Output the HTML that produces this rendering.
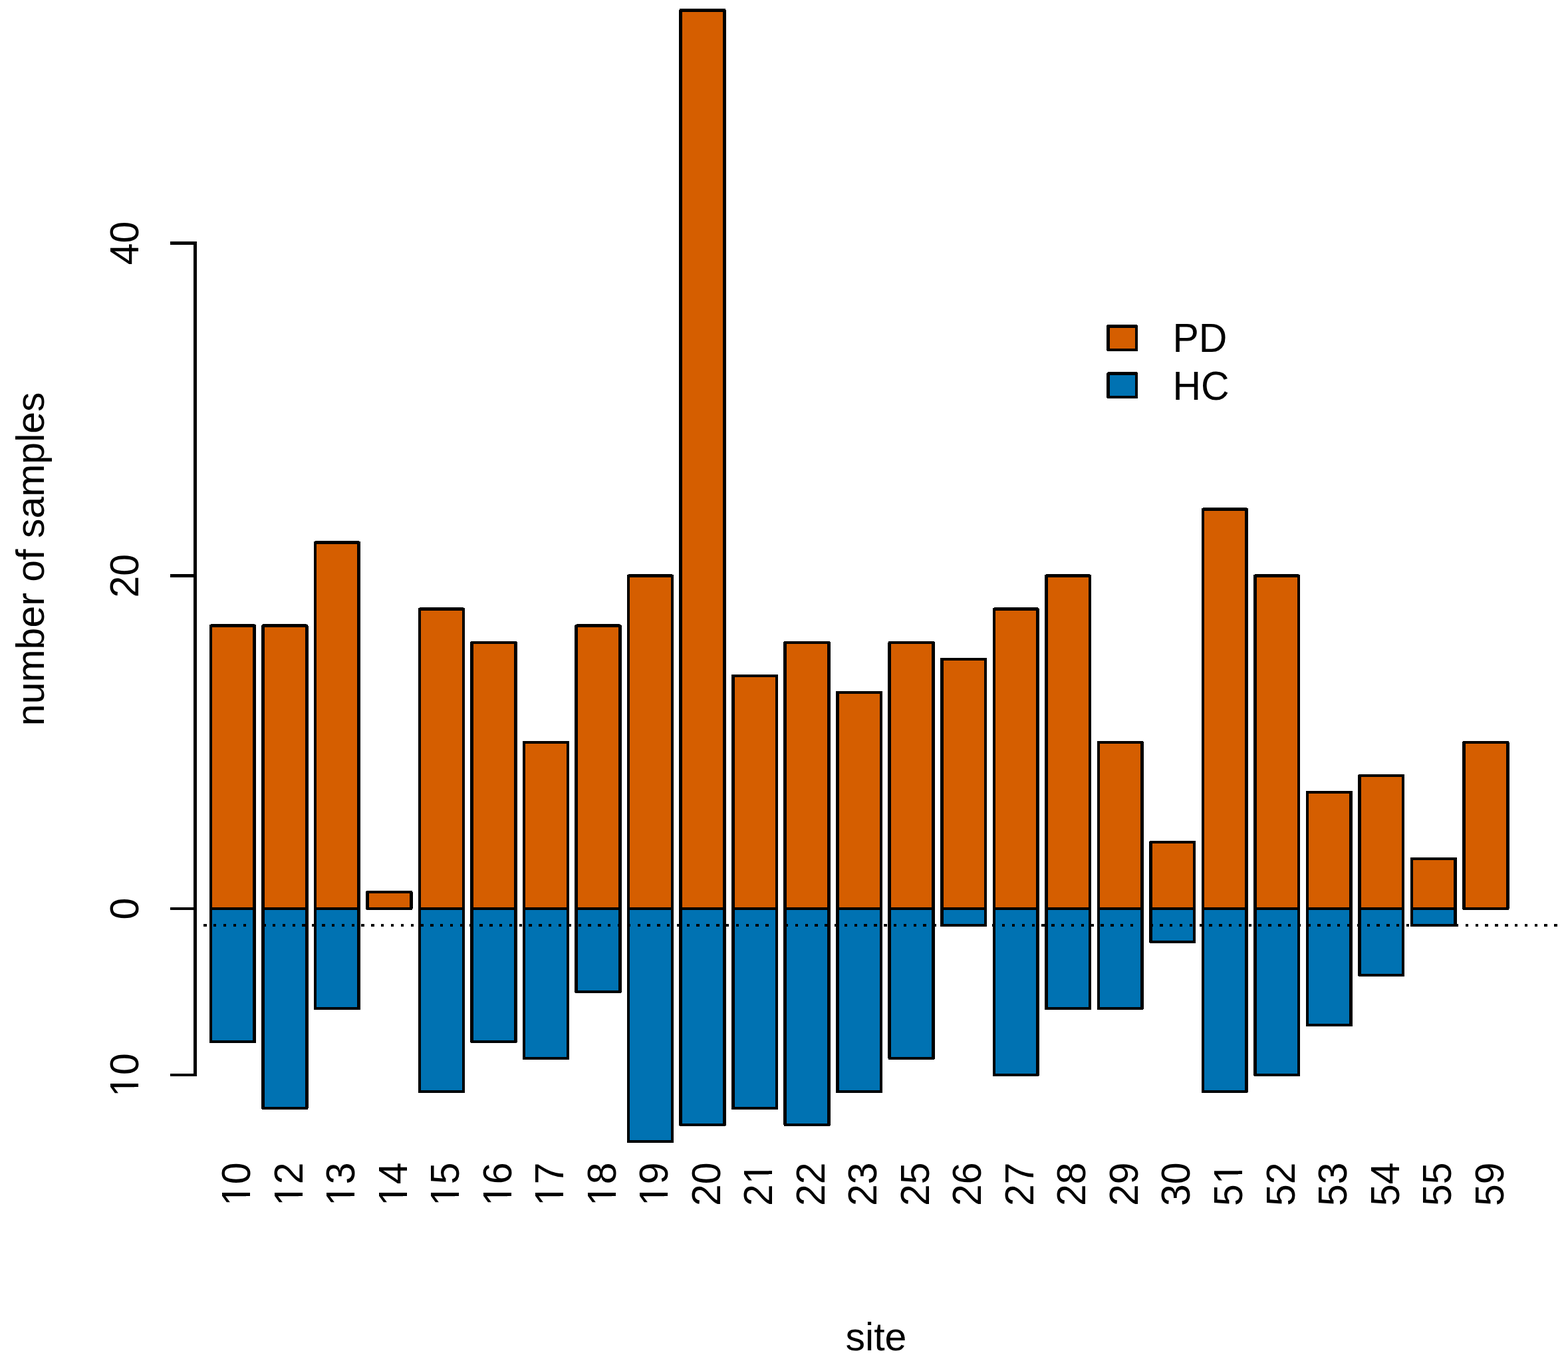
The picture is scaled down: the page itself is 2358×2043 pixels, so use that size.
<!DOCTYPE html>
<html><head><meta charset="utf-8"><title>number of samples by site</title>
<style>
html,body{margin:0;padding:0;background:#fff;overflow:hidden;}
svg{display:block;}
rect,path,line{shape-rendering:crispEdges;}
text{font-family:"Liberation Sans",Arial,Helvetica,sans-serif;font-size:59px;fill:#000;}
</style></head>
<body>
<svg width="2358" height="2043" viewBox="0 0 2358 2043">
<rect width="2358" height="2043" fill="#fff"/>
<rect x="317.00" y="940.79" width="65.75" height="425.21" fill="#D55E00"/>
<rect x="317.00" y="1366.00" width="65.75" height="200.10" fill="#0072B2"/>
<rect x="395.52" y="940.79" width="65.75" height="425.21" fill="#D55E00"/>
<rect x="395.52" y="1366.00" width="65.75" height="300.15" fill="#0072B2"/>
<rect x="474.04" y="815.73" width="65.75" height="550.27" fill="#D55E00"/>
<rect x="474.04" y="1366.00" width="65.75" height="150.07" fill="#0072B2"/>
<rect x="552.56" y="1340.99" width="65.75" height="25.01" fill="#D55E00"/>
<rect x="631.08" y="915.78" width="65.75" height="450.22" fill="#D55E00"/>
<rect x="631.08" y="1366.00" width="65.75" height="275.14" fill="#0072B2"/>
<rect x="709.60" y="965.80" width="65.75" height="400.20" fill="#D55E00"/>
<rect x="709.60" y="1366.00" width="65.75" height="200.10" fill="#0072B2"/>
<rect x="788.12" y="1115.88" width="65.75" height="250.12" fill="#D55E00"/>
<rect x="788.12" y="1366.00" width="65.75" height="225.11" fill="#0072B2"/>
<rect x="866.64" y="940.79" width="65.75" height="425.21" fill="#D55E00"/>
<rect x="866.64" y="1366.00" width="65.75" height="125.06" fill="#0072B2"/>
<rect x="945.16" y="865.75" width="65.75" height="500.25" fill="#D55E00"/>
<rect x="945.16" y="1366.00" width="65.75" height="350.18" fill="#0072B2"/>
<rect x="1023.68" y="15.33" width="65.75" height="1350.67" fill="#D55E00"/>
<rect x="1023.68" y="1366.00" width="65.75" height="325.16" fill="#0072B2"/>
<rect x="1102.20" y="1015.83" width="65.75" height="350.18" fill="#D55E00"/>
<rect x="1102.20" y="1366.00" width="65.75" height="300.15" fill="#0072B2"/>
<rect x="1180.72" y="965.80" width="65.75" height="400.20" fill="#D55E00"/>
<rect x="1180.72" y="1366.00" width="65.75" height="325.16" fill="#0072B2"/>
<rect x="1259.24" y="1040.84" width="65.75" height="325.16" fill="#D55E00"/>
<rect x="1259.24" y="1366.00" width="65.75" height="275.14" fill="#0072B2"/>
<rect x="1337.76" y="965.80" width="65.75" height="400.20" fill="#D55E00"/>
<rect x="1337.76" y="1366.00" width="65.75" height="225.11" fill="#0072B2"/>
<rect x="1416.28" y="990.81" width="65.75" height="375.19" fill="#D55E00"/>
<rect x="1416.28" y="1366.00" width="65.75" height="25.01" fill="#0072B2"/>
<rect x="1494.80" y="915.78" width="65.75" height="450.22" fill="#D55E00"/>
<rect x="1494.80" y="1366.00" width="65.75" height="250.12" fill="#0072B2"/>
<rect x="1573.32" y="865.75" width="65.75" height="500.25" fill="#D55E00"/>
<rect x="1573.32" y="1366.00" width="65.75" height="150.07" fill="#0072B2"/>
<rect x="1651.84" y="1115.88" width="65.75" height="250.12" fill="#D55E00"/>
<rect x="1651.84" y="1366.00" width="65.75" height="150.07" fill="#0072B2"/>
<rect x="1730.36" y="1265.95" width="65.75" height="100.05" fill="#D55E00"/>
<rect x="1730.36" y="1366.00" width="65.75" height="50.02" fill="#0072B2"/>
<rect x="1808.88" y="765.70" width="65.75" height="600.30" fill="#D55E00"/>
<rect x="1808.88" y="1366.00" width="65.75" height="275.14" fill="#0072B2"/>
<rect x="1887.40" y="865.75" width="65.75" height="500.25" fill="#D55E00"/>
<rect x="1887.40" y="1366.00" width="65.75" height="250.12" fill="#0072B2"/>
<rect x="1965.92" y="1190.91" width="65.75" height="175.09" fill="#D55E00"/>
<rect x="1965.92" y="1366.00" width="65.75" height="175.09" fill="#0072B2"/>
<rect x="2044.44" y="1165.90" width="65.75" height="200.10" fill="#D55E00"/>
<rect x="2044.44" y="1366.00" width="65.75" height="100.05" fill="#0072B2"/>
<rect x="2122.96" y="1290.96" width="65.75" height="75.04" fill="#D55E00"/>
<rect x="2122.96" y="1366.00" width="65.75" height="25.01" fill="#0072B2"/>
<rect x="2201.48" y="1115.88" width="65.75" height="250.12" fill="#D55E00"/>
<rect x="317.00" y="940.79" width="65.75" height="425.21" fill="none" stroke="#000" stroke-width="4.6" stroke-linejoin="round"/>
<rect x="317.00" y="1366.00" width="65.75" height="200.10" fill="none" stroke="#000" stroke-width="4.6" stroke-linejoin="round"/>
<rect x="395.52" y="940.79" width="65.75" height="425.21" fill="none" stroke="#000" stroke-width="4.6" stroke-linejoin="round"/>
<rect x="395.52" y="1366.00" width="65.75" height="300.15" fill="none" stroke="#000" stroke-width="4.6" stroke-linejoin="round"/>
<rect x="474.04" y="815.73" width="65.75" height="550.27" fill="none" stroke="#000" stroke-width="4.6" stroke-linejoin="round"/>
<rect x="474.04" y="1366.00" width="65.75" height="150.07" fill="none" stroke="#000" stroke-width="4.6" stroke-linejoin="round"/>
<rect x="552.56" y="1340.99" width="65.75" height="25.01" fill="none" stroke="#000" stroke-width="4.6" stroke-linejoin="round"/>
<rect x="631.08" y="915.78" width="65.75" height="450.22" fill="none" stroke="#000" stroke-width="4.6" stroke-linejoin="round"/>
<rect x="631.08" y="1366.00" width="65.75" height="275.14" fill="none" stroke="#000" stroke-width="4.6" stroke-linejoin="round"/>
<rect x="709.60" y="965.80" width="65.75" height="400.20" fill="none" stroke="#000" stroke-width="4.6" stroke-linejoin="round"/>
<rect x="709.60" y="1366.00" width="65.75" height="200.10" fill="none" stroke="#000" stroke-width="4.6" stroke-linejoin="round"/>
<rect x="788.12" y="1115.88" width="65.75" height="250.12" fill="none" stroke="#000" stroke-width="4.6" stroke-linejoin="round"/>
<rect x="788.12" y="1366.00" width="65.75" height="225.11" fill="none" stroke="#000" stroke-width="4.6" stroke-linejoin="round"/>
<rect x="866.64" y="940.79" width="65.75" height="425.21" fill="none" stroke="#000" stroke-width="4.6" stroke-linejoin="round"/>
<rect x="866.64" y="1366.00" width="65.75" height="125.06" fill="none" stroke="#000" stroke-width="4.6" stroke-linejoin="round"/>
<rect x="945.16" y="865.75" width="65.75" height="500.25" fill="none" stroke="#000" stroke-width="4.6" stroke-linejoin="round"/>
<rect x="945.16" y="1366.00" width="65.75" height="350.18" fill="none" stroke="#000" stroke-width="4.6" stroke-linejoin="round"/>
<rect x="1023.68" y="15.33" width="65.75" height="1350.67" fill="none" stroke="#000" stroke-width="4.6" stroke-linejoin="round"/>
<rect x="1023.68" y="1366.00" width="65.75" height="325.16" fill="none" stroke="#000" stroke-width="4.6" stroke-linejoin="round"/>
<rect x="1102.20" y="1015.83" width="65.75" height="350.18" fill="none" stroke="#000" stroke-width="4.6" stroke-linejoin="round"/>
<rect x="1102.20" y="1366.00" width="65.75" height="300.15" fill="none" stroke="#000" stroke-width="4.6" stroke-linejoin="round"/>
<rect x="1180.72" y="965.80" width="65.75" height="400.20" fill="none" stroke="#000" stroke-width="4.6" stroke-linejoin="round"/>
<rect x="1180.72" y="1366.00" width="65.75" height="325.16" fill="none" stroke="#000" stroke-width="4.6" stroke-linejoin="round"/>
<rect x="1259.24" y="1040.84" width="65.75" height="325.16" fill="none" stroke="#000" stroke-width="4.6" stroke-linejoin="round"/>
<rect x="1259.24" y="1366.00" width="65.75" height="275.14" fill="none" stroke="#000" stroke-width="4.6" stroke-linejoin="round"/>
<rect x="1337.76" y="965.80" width="65.75" height="400.20" fill="none" stroke="#000" stroke-width="4.6" stroke-linejoin="round"/>
<rect x="1337.76" y="1366.00" width="65.75" height="225.11" fill="none" stroke="#000" stroke-width="4.6" stroke-linejoin="round"/>
<rect x="1416.28" y="990.81" width="65.75" height="375.19" fill="none" stroke="#000" stroke-width="4.6" stroke-linejoin="round"/>
<rect x="1416.28" y="1366.00" width="65.75" height="25.01" fill="none" stroke="#000" stroke-width="4.6" stroke-linejoin="round"/>
<rect x="1494.80" y="915.78" width="65.75" height="450.22" fill="none" stroke="#000" stroke-width="4.6" stroke-linejoin="round"/>
<rect x="1494.80" y="1366.00" width="65.75" height="250.12" fill="none" stroke="#000" stroke-width="4.6" stroke-linejoin="round"/>
<rect x="1573.32" y="865.75" width="65.75" height="500.25" fill="none" stroke="#000" stroke-width="4.6" stroke-linejoin="round"/>
<rect x="1573.32" y="1366.00" width="65.75" height="150.07" fill="none" stroke="#000" stroke-width="4.6" stroke-linejoin="round"/>
<rect x="1651.84" y="1115.88" width="65.75" height="250.12" fill="none" stroke="#000" stroke-width="4.6" stroke-linejoin="round"/>
<rect x="1651.84" y="1366.00" width="65.75" height="150.07" fill="none" stroke="#000" stroke-width="4.6" stroke-linejoin="round"/>
<rect x="1730.36" y="1265.95" width="65.75" height="100.05" fill="none" stroke="#000" stroke-width="4.6" stroke-linejoin="round"/>
<rect x="1730.36" y="1366.00" width="65.75" height="50.02" fill="none" stroke="#000" stroke-width="4.6" stroke-linejoin="round"/>
<rect x="1808.88" y="765.70" width="65.75" height="600.30" fill="none" stroke="#000" stroke-width="4.6" stroke-linejoin="round"/>
<rect x="1808.88" y="1366.00" width="65.75" height="275.14" fill="none" stroke="#000" stroke-width="4.6" stroke-linejoin="round"/>
<rect x="1887.40" y="865.75" width="65.75" height="500.25" fill="none" stroke="#000" stroke-width="4.6" stroke-linejoin="round"/>
<rect x="1887.40" y="1366.00" width="65.75" height="250.12" fill="none" stroke="#000" stroke-width="4.6" stroke-linejoin="round"/>
<rect x="1965.92" y="1190.91" width="65.75" height="175.09" fill="none" stroke="#000" stroke-width="4.6" stroke-linejoin="round"/>
<rect x="1965.92" y="1366.00" width="65.75" height="175.09" fill="none" stroke="#000" stroke-width="4.6" stroke-linejoin="round"/>
<rect x="2044.44" y="1165.90" width="65.75" height="200.10" fill="none" stroke="#000" stroke-width="4.6" stroke-linejoin="round"/>
<rect x="2044.44" y="1366.00" width="65.75" height="100.05" fill="none" stroke="#000" stroke-width="4.6" stroke-linejoin="round"/>
<rect x="2122.96" y="1290.96" width="65.75" height="75.04" fill="none" stroke="#000" stroke-width="4.6" stroke-linejoin="round"/>
<rect x="2122.96" y="1366.00" width="65.75" height="25.01" fill="none" stroke="#000" stroke-width="4.6" stroke-linejoin="round"/>
<rect x="2201.48" y="1115.88" width="65.75" height="250.12" fill="none" stroke="#000" stroke-width="4.6" stroke-linejoin="round"/>
<line x1="306.2" y1="1391" x2="2345" y2="1391" stroke="#000" stroke-width="4" stroke-dasharray="4.4 10.425"/>
<path d="M293.5 363.20 V1618.42 M256 365.50 H295.8 M256 865.75 H295.8 M256 1366.00 H295.8 M256 1616.12 H295.8" fill="none" stroke="#000" stroke-width="4.6" stroke-linejoin="round"/>
<text transform="translate(208.00 365.50) rotate(-90) scale(1 1.05)" text-anchor="middle">40</text>
<text transform="translate(208.00 865.75) rotate(-90) scale(1 1.05)" text-anchor="middle">20</text>
<text transform="translate(208.00 1366.00) rotate(-90) scale(1 1.05)" text-anchor="middle">0</text>
<g transform="translate(208.00 1616.12) rotate(-90) scale(1 1.05)"><text text-anchor="middle">10</text><rect x="-28.78" y="-5.47" width="10.80" height="8.47" fill="#fff"/><rect x="-12.76" y="-5.47" width="10.34" height="8.47" fill="#fff"/></g>
<text transform="translate(66.00 840.30) rotate(-90)" text-anchor="middle">number of samples</text>
<g transform="translate(376.12 1747.50) rotate(-90) scale(1 1.05)"><text text-anchor="end">10</text><rect x="-61.59" y="-5.47" width="10.80" height="8.47" fill="#fff"/><rect x="-45.58" y="-5.47" width="10.34" height="8.47" fill="#fff"/></g>
<g transform="translate(454.64 1747.50) rotate(-90) scale(1 1.05)"><text text-anchor="end">12</text><rect x="-61.59" y="-5.47" width="10.80" height="8.47" fill="#fff"/><rect x="-45.58" y="-5.47" width="10.34" height="8.47" fill="#fff"/></g>
<g transform="translate(533.16 1747.50) rotate(-90) scale(1 1.05)"><text text-anchor="end">13</text><rect x="-61.59" y="-5.47" width="10.80" height="8.47" fill="#fff"/><rect x="-45.58" y="-5.47" width="10.34" height="8.47" fill="#fff"/></g>
<g transform="translate(611.68 1747.50) rotate(-90) scale(1 1.05)"><text text-anchor="end">14</text><rect x="-61.59" y="-5.47" width="10.80" height="8.47" fill="#fff"/><rect x="-45.58" y="-5.47" width="10.34" height="8.47" fill="#fff"/></g>
<g transform="translate(690.20 1747.50) rotate(-90) scale(1 1.05)"><text text-anchor="end">15</text><rect x="-61.59" y="-5.47" width="10.80" height="8.47" fill="#fff"/><rect x="-45.58" y="-5.47" width="10.34" height="8.47" fill="#fff"/></g>
<g transform="translate(768.72 1747.50) rotate(-90) scale(1 1.05)"><text text-anchor="end">16</text><rect x="-61.59" y="-5.47" width="10.80" height="8.47" fill="#fff"/><rect x="-45.58" y="-5.47" width="10.34" height="8.47" fill="#fff"/></g>
<g transform="translate(847.25 1747.50) rotate(-90) scale(1 1.05)"><text text-anchor="end">17</text><rect x="-61.59" y="-5.47" width="10.80" height="8.47" fill="#fff"/><rect x="-45.58" y="-5.47" width="10.34" height="8.47" fill="#fff"/></g>
<g transform="translate(925.76 1747.50) rotate(-90) scale(1 1.05)"><text text-anchor="end">18</text><rect x="-61.59" y="-5.47" width="10.80" height="8.47" fill="#fff"/><rect x="-45.58" y="-5.47" width="10.34" height="8.47" fill="#fff"/></g>
<g transform="translate(1004.28 1747.50) rotate(-90) scale(1 1.05)"><text text-anchor="end">19</text><rect x="-61.59" y="-5.47" width="10.80" height="8.47" fill="#fff"/><rect x="-45.58" y="-5.47" width="10.34" height="8.47" fill="#fff"/></g>
<text transform="translate(1082.80 1747.50) rotate(-90) scale(1 1.05)" text-anchor="end">20</text>
<g transform="translate(1161.32 1747.50) rotate(-90) scale(1 1.05)"><text text-anchor="end">21</text><rect x="-28.78" y="-5.47" width="10.80" height="8.47" fill="#fff"/><rect x="-12.76" y="-5.47" width="10.34" height="8.47" fill="#fff"/></g>
<text transform="translate(1239.84 1747.50) rotate(-90) scale(1 1.05)" text-anchor="end">22</text>
<text transform="translate(1318.37 1747.50) rotate(-90) scale(1 1.05)" text-anchor="end">23</text>
<text transform="translate(1396.88 1747.50) rotate(-90) scale(1 1.05)" text-anchor="end">25</text>
<text transform="translate(1475.40 1747.50) rotate(-90) scale(1 1.05)" text-anchor="end">26</text>
<text transform="translate(1553.92 1747.50) rotate(-90) scale(1 1.05)" text-anchor="end">27</text>
<text transform="translate(1632.44 1747.50) rotate(-90) scale(1 1.05)" text-anchor="end">28</text>
<text transform="translate(1710.96 1747.50) rotate(-90) scale(1 1.05)" text-anchor="end">29</text>
<text transform="translate(1789.48 1747.50) rotate(-90) scale(1 1.05)" text-anchor="end">30</text>
<g transform="translate(1868.00 1747.50) rotate(-90) scale(1 1.05)"><text text-anchor="end">51</text><rect x="-28.78" y="-5.47" width="10.80" height="8.47" fill="#fff"/><rect x="-12.76" y="-5.47" width="10.34" height="8.47" fill="#fff"/></g>
<text transform="translate(1946.52 1747.50) rotate(-90) scale(1 1.05)" text-anchor="end">52</text>
<text transform="translate(2025.04 1747.50) rotate(-90) scale(1 1.05)" text-anchor="end">53</text>
<text transform="translate(2103.56 1747.50) rotate(-90) scale(1 1.05)" text-anchor="end">54</text>
<text transform="translate(2182.09 1747.50) rotate(-90) scale(1 1.05)" text-anchor="end">55</text>
<text transform="translate(2260.61 1747.50) rotate(-90) scale(1 1.05)" text-anchor="end">59</text>
<text transform="translate(1317.50 2030.00)" text-anchor="middle">site</text>
<rect x="1666.5" y="490.4" width="42.5" height="35.5" fill="#D55E00" stroke="#000" stroke-width="4.6" stroke-linejoin="round"/>
<rect x="1666.5" y="561.6" width="42.5" height="35.5" fill="#0072B2" stroke="#000" stroke-width="4.6" stroke-linejoin="round"/>
<text transform="translate(1763.40 528.80) scale(1 1.05)">PD</text>
<text transform="translate(1763.40 601.00) scale(1 1.05)">HC</text>
</svg>
</body></html>
